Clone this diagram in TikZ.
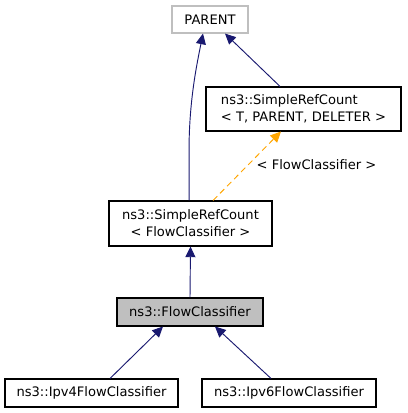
\documentclass[tikz,border=0pt]{standalone}
\usepackage{fontspec}
\setmainfont{DejaVu Sans}
\usetikzlibrary{arrows.meta}
\definecolor{edgeblue}{HTML}{191970}
\definecolor{edgeorange}{HTML}{FFA500}
\definecolor{nodegray}{HTML}{BFBFBF}
\definecolor{bordergray}{HTML}{BFBFBF}
\tikzset{
  cls/.style={draw=black, fill=white, rectangle, inner sep=0pt, line width=0.8pt,
    font=\fontsize{9.8pt}{12.75pt}\selectfont},
  inh/.style={draw=edgeblue, line width=0.7pt, -{Triangle[length=8pt,width=7.5pt]}, color=edgeblue},
  tmpl/.style={draw=edgeorange, line width=0.7pt, dashed, dash pattern=on 4.5pt off 3pt, -{Triangle[length=8pt,width=7.5pt]}, color=edgeorange},
  lbl/.style={font=\fontsize{9.8pt}{12.75pt}\selectfont, inner sep=0pt}
}
\begin{document}
\begin{tikzpicture}[x=0.75pt,y=-0.75pt]
\useasboundingbox (0,0) rectangle (407,413);
\node[cls, draw=bordergray, minimum width=57pt, minimum height=20.25pt] (parent) at (210,19.5) {PARENT};
\node[cls, minimum width=146.25pt, minimum height=33pt, align=left] (srct) at (303.5,109) {ns3::SimpleRefCount\\< T, PARENT, DELETER >};
\node[cls, minimum width=122.25pt, minimum height=33.75pt, align=center] (srcfc) at (190.5,223.5) {ns3::SimpleRefCount\\< FlowClassifier >};
\node[cls, fill=nodegray, minimum width=109.5pt, minimum height=21pt] (fc) at (190,312) {ns3::FlowClassifier};
\node[cls, minimum width=129.75pt, minimum height=21pt] (ipv4) at (91.5,393) {ns3::Ipv4FlowClassifier};
\node[cls, minimum width=130.5pt, minimum height=21pt] (ipv6) at (289,393) {ns3::Ipv6FlowClassifier};
\node[lbl] (tlabel) at (316.5,165) {< FlowClassifier >};

\draw[inh] ([xshift=-1.1pt]srcfc.north) -- ++(0,-50) .. controls ++(0,-50) and ++(-6,30) .. ([xshift=-5.25pt]parent.south);
\draw[inh] ([xshift=-17.6pt]srct.north) -- ([xshift=11.25pt]parent.south);
\draw[tmpl] ([xshift=16.9pt]srcfc.north) -- ([xshift=-16.9pt]srct.south);
\draw[inh] (fc.north) -- (srcfc.south);
\draw[inh] ([xshift=13.9pt]ipv4.north) -- ([xshift=-20.25pt]fc.south);
\draw[inh] ([xshift=-13.5pt]ipv6.north) -- ([xshift=18.75pt]fc.south);
\end{tikzpicture}
\end{document}
